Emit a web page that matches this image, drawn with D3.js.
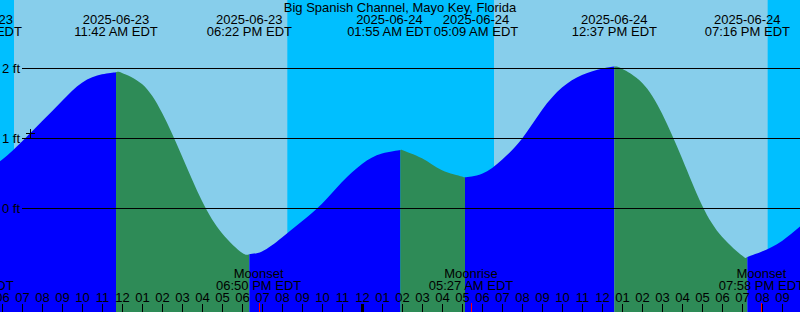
<!DOCTYPE html>
<html>
<head>
<meta charset="utf-8">
<script src="https://cdn.jsdelivr.net/npm/d3@7"></script>
<style>
  html, body { margin: 0; padding: 0; background: #fff; }
  svg { display: block; font-family: "Liberation Sans", Arial, sans-serif; }
</style>
</head>
<body>
<div class="tide-wrapper"></div>
<script>
const title = 'Big Spanish Channel, Mayo Key, Florida'

// chart window
const domainStart = '2025-06-23 05:54'
const domainEnd = '2025-06-24 21:54'

// tide level read every hour, from 06:00 on the 23rd
const hourlyStart = '2025-06-23 06:00'
const hourlyLevels = [0.69, 0.95, 1.24, 1.53, 1.79, 1.91, 1.93, 1.77, 1.36, 0.74,
  0.10, -0.36, -0.64, -0.62, -0.42, -0.19, 0.06, 0.37, 0.63, 0.78,
  0.83, 0.71, 0.54, 0.45, 0.49, 0.69, 0.99, 1.40, 1.72, 1.90,
  1.99, 1.99, 1.79, 1.35, 0.71, 0.04, -0.41, -0.68, -0.62, -0.47, -0.24]

// highs and lows
const tideEventTimes = ['2025-06-23 04:53', '2025-06-23 11:42', '2025-06-23 18:22',
  '2025-06-24 01:55', '2025-06-24 05:09', '2025-06-24 12:37', '2025-06-24 19:16']
const tideEventLevels = [0.48, 1.94, -0.66, 0.83, 0.44, 2.02, -0.70]
const tideEventTypes = ['L', 'H', 'L', 'H', 'L', 'H', 'L']

const moonTimes = ['2025-06-23 04:28', '2025-06-23 18:50', '2025-06-24 05:27', '2025-06-24 19:58']
const moonEvents = ['Moonrise', 'Moonset', 'Moonrise', 'Moonset']

const sunriseTimes = ['2025-06-23 06:36', '2025-06-24 06:36']
const sunsetTimes = ['2025-06-23 20:16', '2025-06-24 20:17']

const levelTicks = [0, 1, 2]

const nowTime = '2025-06-23 07:24'
const nowLevel = 1.07

const width = 800
const height = 312

const parse = d3.timeParse('%Y-%m-%d %H:%M')
const fmtDate = d3.timeFormat('%Y-%m-%d')
const fmtTime = d3.timeFormat('%I:%M %p EDT')

const x = d3.scaleTime()
  .domain([parse(domainStart), parse(domainEnd)])
  .range([0, width])

const y = d3.scaleLinear()
  .domain([0, 2])
  .range([208, 68])

const t0 = parse(hourlyStart)
const events = tideEventTimes.map((t, i) => ({
  date: parse(t), level: tideEventLevels[i], type: tideEventTypes[i]
}))
const series = hourlyLevels
  .map((v, i) => ({ date: d3.timeHour.offset(t0, i), level: v }))
  .concat(events)
  .sort((a, b) => a.date - b.date)

const svg = d3.select('.tide-wrapper')
  .append('svg')
  .attr('width', width)
  .attr('height', height)

// day / night background
svg.append('rect')
  .attr('width', width)
  .attr('height', height)
  .style('fill', '#87ceeb')

const nights = [
  [parse(domainStart), parse(sunriseTimes[0])],
  [parse(sunsetTimes[0]), parse(sunriseTimes[1])],
  [parse(sunsetTimes[1]), parse(domainEnd)]
]

svg.append('g')
  .selectAll('rect')
  .data(nights)
  .enter()
  .append('rect')
  .attr('x', d => x(d[0]))
  .attr('width', d => x(d[1]) - x(d[0]))
  .attr('y', 0)
  .attr('height', height)
  .style('fill', '#00bfff')

// tide fill, blue while rising, green while falling
const area = d3.area()
  .curve(d3.curveNatural)
  .x(d => x(d.date))
  .y0(height)
  .y1(d => y(d.level))

const bounds = [x.domain()[0]].concat(events.map(d => d.date).filter(d => d > x.domain()[0]), [x.domain()[1]])
const segments = d3.pairs(bounds).map(([a, b]) => {
  const next = events.find(e => e.date > a)
  const rising = next ? next.type === 'H' : events[events.length - 1].type === 'L'
  return { a, b, rising }
})

const defs = svg.append('defs')
segments.forEach((s, i) => {
  defs.append('clipPath')
    .attr('id', 'seg' + i)
    .append('rect')
    .attr('x', x(s.a))
    .attr('width', x(s.b) - x(s.a))
    .attr('y', 0)
    .attr('height', height)
})

svg.append('g')
  .selectAll('path')
  .data(segments)
  .enter()
  .append('path')
  .attr('d', area(series))
  .attr('clip-path', (d, i) => 'url(#seg' + i + ')')
  .style('fill', d => d.rising ? '#0000ff' : '#2e8b57')

// level lines
const levels = svg.append('g')
levels.selectAll('line')
  .data(levelTicks)
  .enter()
  .append('line')
  .attr('x1', 22)
  .attr('x2', width)
  .attr('y1', d => Math.round(y(d)) + 0.5)
  .attr('y2', d => Math.round(y(d)) + 0.5)
  .style('stroke', '#000')
  .style('stroke-width', 1)

levels.selectAll('text')
  .data(levelTicks)
  .enter()
  .append('text')
  .attr('x', 20)
  .attr('y', d => y(d) + 4.5)
  .attr('text-anchor', 'end')
  .style('font-size', '13px')
  .text(d => d + ' ft')

// title
svg.append('text')
  .attr('x', width / 2)
  .attr('y', 12)
  .attr('text-anchor', 'middle')
  .style('font-size', '13px')
  .text(title)

// high / low labels
const evLabels = svg.append('g')
  .selectAll('g')
  .data(events)
  .enter()
  .append('g')
  .attr('text-anchor', 'middle')
  .style('font-size', '13px')

evLabels.append('text').attr('y', 24).text(d => fmtDate(d.date))
evLabels.append('text').attr('y', 36).text(d => fmtTime(d.date))

// push neighbouring labels apart so they don't overlap
evLabels.each(function (d) {
  d.cx = x(d.date)
  d.w = d3.max(d3.select(this).selectAll('text').nodes(), n => n.getComputedTextLength())
})
for (let k = 0; k < 10; k++) {
  for (let i = 0; i < events.length - 1; i++) {
    const a = events[i], b = events[i + 1]
    const need = (a.w + b.w) / 2 + 2
    const gap = b.cx - a.cx
    if (gap < need) {
      a.cx -= (need - gap) / 2
      b.cx += (need - gap) / 2
    }
  }
}
evLabels.attr('transform', d => `translate(${d.cx},0)`)

// moon labels
const moon = moonTimes.map((t, i) => ({ date: parse(t), name: moonEvents[i] }))
const moonLabels = svg.append('g')
  .selectAll('g')
  .data(moon)
  .enter()
  .append('g')
  .attr('transform', d => `translate(${x(d.date)},0)`)
  .attr('text-anchor', 'middle')
  .style('font-size', '13px')

moonLabels.append('text').attr('y', 278).text(d => d.name)
moonLabels.append('text').attr('y', 290).text(d => fmtTime(d.date))

// current level marker
const nx = Math.round(x(parse(nowTime))) + 0.5
const ny = Math.round(y(nowLevel)) + 0.5
svg.append('path')
  .attr('d', `M${nx - 4.5},${ny}H${nx + 4.5}M${nx},${ny - 4.5}V${ny + 4.5}`)
  .style('stroke', '#000')
  .style('stroke-width', 1)
  .style('fill', 'none')

// hour axis
const axis = svg.append('g')
  .attr('transform', `translate(0,${height})`)
  .call(d3.axisTop(x)
    .ticks(d3.timeHour.every(1))
    .tickFormat(d3.timeFormat('%I'))
    .tickSize(8)
    .tickPadding(2))

axis.select('.domain').remove()
axis.attr('font-family', null).attr('font-size', null)
axis.selectAll('text').style('font-size', '13px').style('fill', '#000')
axis.selectAll('line').style('stroke', '#000')
axis.selectAll('.tick')
  .filter(d => d.getHours() === 0)
  .select('line')
  .style('stroke-width', 3)

svg.append('g')
  .selectAll('line')
  .data(moon)
  .enter()
  .append('line')
  .attr('x1', d => Math.round(x(d.date)) + 0.5)
  .attr('x2', d => Math.round(x(d.date)) + 0.5)
  .attr('y1', height - 9)
  .attr('y2', height)
  .style('stroke', '#ff0000')
</script>
</body>
</html>
